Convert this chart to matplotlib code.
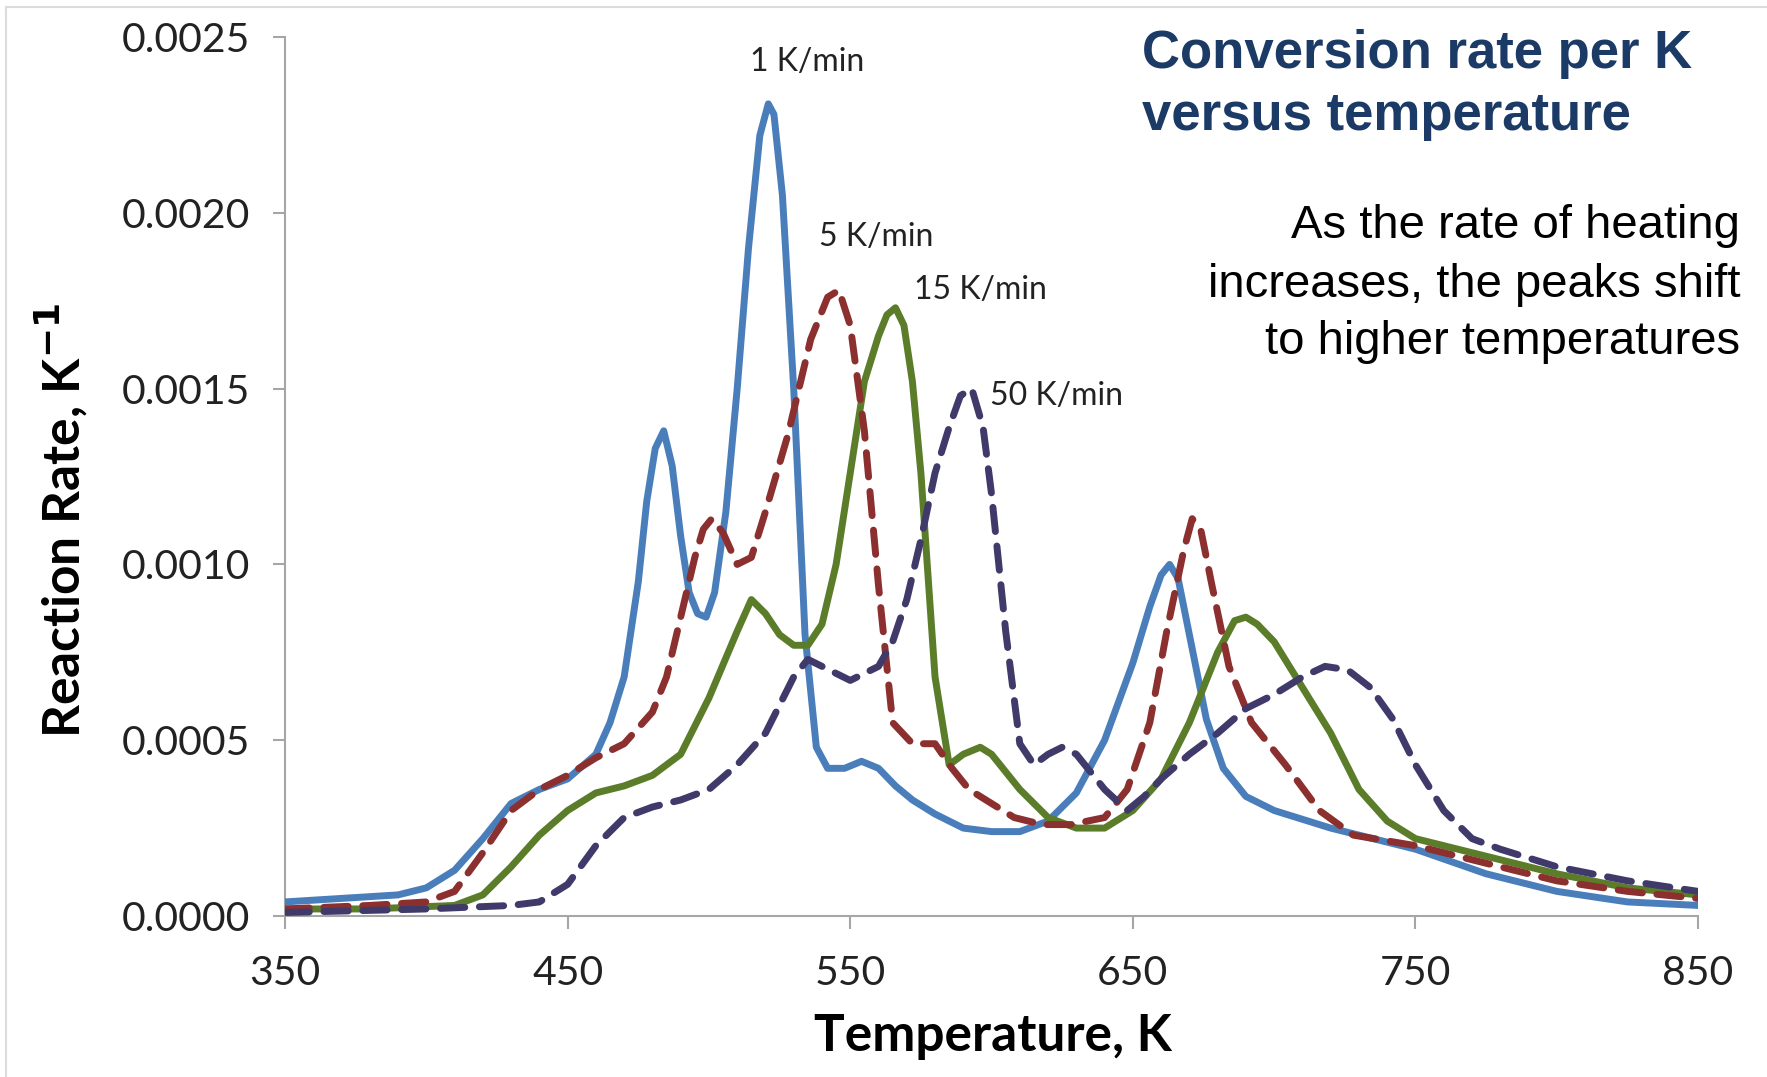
import matplotlib
matplotlib.use("Agg")
import matplotlib.pyplot as plt
from matplotlib.lines import Line2D
from matplotlib.ticker import FormatStrFormatter

# Temperature grids (K) and reaction rates (1/K) for each heating rate
t_1 = [350, 370, 390, 400, 410, 420, 430, 440, 450, 460, 465, 470, 475, 478, 481,
       484, 487, 490, 493, 496, 499, 502, 506, 510, 514, 518, 521, 523, 526, 530,
       534, 538, 542, 548, 554, 560, 566, 572, 580, 590, 600, 610, 620, 630, 640,
       650, 656, 660, 663, 666, 670, 676, 682, 690, 700, 720, 750, 775, 800, 825, 850]
r_1 = [0.00004, 0.00005, 0.00006, 0.00008, 0.00013, 0.00022, 0.00032, 0.00036,
       0.00039, 0.00046, 0.00055, 0.00068, 0.00095, 0.00118, 0.00133, 0.00138,
       0.00128, 0.00108, 0.00092, 0.00086, 0.00085, 0.00092, 0.00115, 0.00150,
       0.00190, 0.00222, 0.00231, 0.00228, 0.00205, 0.00150, 0.00080, 0.00048,
       0.00042, 0.00042, 0.00044, 0.00042, 0.00037, 0.00033, 0.00029, 0.00025,
       0.00024, 0.00024, 0.00027, 0.00035, 0.00050, 0.00072, 0.00088, 0.00097,
       0.00100, 0.00096, 0.00080, 0.00056, 0.00042, 0.00034, 0.00030, 0.00025,
       0.00019, 0.00012, 0.00007, 0.00004, 0.00003]

t_5 = [350, 380, 400, 410, 420, 430, 440, 450, 460, 470, 480, 485, 490, 495, 498,
       501, 505, 510, 515, 520, 528, 536, 542, 546, 550, 555, 560, 565, 572, 580,
       586, 592, 600, 608, 618, 628, 640, 648, 656, 662, 668, 671, 674, 678, 684,
       692, 704, 716, 728, 750, 775, 800, 825, 850]
r_5 = [0.00002, 0.00003, 0.00004, 0.00007, 0.00018, 0.00030, 0.00036, 0.00040,
       0.00045, 0.00049, 0.00058, 0.00068, 0.00085, 0.00102, 0.00110, 0.00113,
       0.00109, 0.00100, 0.00102, 0.00115, 0.00137, 0.00164, 0.00176, 0.00178,
       0.00168, 0.00138, 0.00094, 0.00055, 0.00049, 0.00049, 0.00042, 0.00036,
       0.00032, 0.00028, 0.00026, 0.00026, 0.00028, 0.00036, 0.00055, 0.00081,
       0.00104, 0.00113, 0.00110, 0.00094, 0.00071, 0.00055, 0.00043, 0.00030,
       0.00023, 0.00020, 0.00015, 0.00010, 0.00007, 0.00005]

t_15 = [350, 380, 410, 420, 430, 440, 450, 460, 470, 480, 490, 500, 510, 515, 520,
        525, 530, 535, 540, 545, 550, 555, 560, 563, 566, 569, 572, 575, 580, 585,
        590, 596, 600, 610, 620, 630, 640, 650, 660, 670, 680, 686, 690, 694, 700,
        710, 720, 730, 740, 750, 775, 800, 825, 850]
r_15 = [0.00002, 0.00002, 0.00003, 0.00006, 0.00014, 0.00023, 0.00030, 0.00035,
        0.00037, 0.00040, 0.00046, 0.00062, 0.00081, 0.00090, 0.00086, 0.00080,
        0.00077, 0.00077, 0.00083, 0.00100, 0.00126, 0.00152, 0.00165, 0.00171,
        0.00173, 0.00168, 0.00152, 0.00126, 0.00068, 0.00043, 0.00046, 0.00048,
        0.00046, 0.00036, 0.00028, 0.00025, 0.00025, 0.00030, 0.00039, 0.00055,
        0.00075, 0.00084, 0.00085, 0.00083, 0.00078, 0.00065, 0.00052, 0.00036,
        0.00027, 0.00022, 0.00017, 0.00012, 0.00008, 0.00006]

t_50 = [350, 400, 430, 440, 450, 460, 470, 480, 490, 500, 510, 520, 530, 535, 540,
        550, 560, 565, 570, 575, 580, 585, 589, 593, 597, 600, 605, 610, 615, 620,
        625, 630, 640, 648, 654, 660, 670, 680, 690, 700, 710, 718, 726, 734, 742,
        750, 760, 770, 780, 800, 825, 850]
r_50 = [0.00001, 0.00002, 0.00003, 0.00004, 0.00009, 0.00020, 0.00028, 0.00031,
        0.00033, 0.00036, 0.00043, 0.00052, 0.00068, 0.00073, 0.00071, 0.00067,
        0.00071, 0.00078, 0.00090, 0.00107, 0.00126, 0.00139, 0.00148, 0.00150,
        0.00139, 0.00120, 0.00081, 0.00049, 0.00043, 0.00046, 0.00048, 0.00046,
        0.00036, 0.00030, 0.00034, 0.00039, 0.00046, 0.00052, 0.00059, 0.00063,
        0.00068, 0.00071, 0.00070, 0.00065, 0.00056, 0.00043, 0.00030, 0.00022,
        0.00019, 0.00014, 0.00010, 0.00007]

series_labels = ["1 K/min", "5 K/min", "15 K/min", "50 K/min"]
label_t = [534.6, 559.3, 596.0, 623.0]
label_r = [0.00243, 0.00193, 0.00178, 0.00148]

x_ticks = [350, 450, 550, 650, 750, 850]
y_ticks = [0.0, 0.0005, 0.0010, 0.0015, 0.0020, 0.0025]

colors = ["#4a7ebb", "#8c2f2f", "#5b7d2a", "#3f3a6a"]

W, H = 1767, 1077
fig = plt.figure(figsize=(W / 100, H / 100), dpi=100)
fig.patch.set_facecolor("white")
ax = fig.add_axes([0.1613, 0.1495, 0.7997, 0.8161])

lw = 5.0
ax.plot(t_1, r_1, color=colors[0], lw=lw, solid_capstyle="round",
        solid_joinstyle="round", zorder=3)
ax.plot(t_5, r_5, color=colors[1], lw=lw, dashes=(3.5, 2.1),
        dash_capstyle="round", zorder=4)
ax.plot(t_15, r_15, color=colors[2], lw=lw, solid_capstyle="round",
        solid_joinstyle="round", zorder=3)
ax.plot(t_50, r_50, color=colors[3], lw=lw, dashes=(3.5, 2.1),
        dash_capstyle="round", zorder=4)

tick_font = "Lato"
for lab, tx, ry in zip(series_labels, label_t, label_r):
    ax.text(tx, ry, lab, ha="center", va="center", fontsize=23,
            family=tick_font, color="#222222")

ax.set_xlim(350, 850)
ax.set_ylim(0, 0.0025)
ax.set_xticks(x_ticks)
ax.set_yticks(y_ticks)
ax.yaxis.set_major_formatter(FormatStrFormatter("%.4f"))

for side in ("top", "right"):
    ax.spines[side].set_visible(False)
for side in ("left", "bottom"):
    ax.spines[side].set_color("#a6a6a6")
    ax.spines[side].set_linewidth(1.5)

ax.tick_params(axis="both", colors="#a6a6a6", length=9, width=1.5,
               direction="out", labelcolor="#222222", labelsize=29.5)
ax.tick_params(axis="x", pad=19)
ax.tick_params(axis="y", pad=16)
for lbl in ax.get_xticklabels() + ax.get_yticklabels():
    lbl.set_family(tick_font)

ax.set_xlabel("Temperature, K", fontsize=37, fontweight="bold", family=tick_font)
ax.set_ylabel("Reaction Rate, K$^{\\mathbf{-1}}$", fontsize=37, fontweight="bold",
              family=tick_font)
ax.xaxis.set_label_coords(0.5008, -0.137)
ax.yaxis.set_label_coords(-0.158, 0.45)
ax.xaxis.label.set_va("center")
ax.yaxis.label.set_va("center")

title_lines = ["Conversion rate per K", "versus temperature"]
title_base = [68, 130]
for line, yb in zip(title_lines, title_base):
    fig.text(1142 / W, 1 - yb / H, line, ha="left", va="baseline", fontsize=38,
             fontweight="bold", family="Liberation Sans", color="#1b3a66")

note_lines = ["As the rate of heating", "increases, the peaks shift",
              "to higher temperatures"]
note_base = [238, 297, 354]
for line, yb in zip(note_lines, note_base):
    fig.text(1740 / W, 1 - yb / H, line, ha="right", va="baseline", fontsize=34,
             family="Liberation Sans", color="black")

# thin frame around the slide area
fig.add_artist(Line2D([0.0034, 1.0], [0.9935, 0.9935], transform=fig.transFigure,
                      color="#dcdcdc", lw=1.5))
fig.add_artist(Line2D([0.0034, 0.0034], [0.0, 0.9935], transform=fig.transFigure,
                      color="#dcdcdc", lw=1.5))

fig.savefig("out.png", dpi=100, facecolor="white")
